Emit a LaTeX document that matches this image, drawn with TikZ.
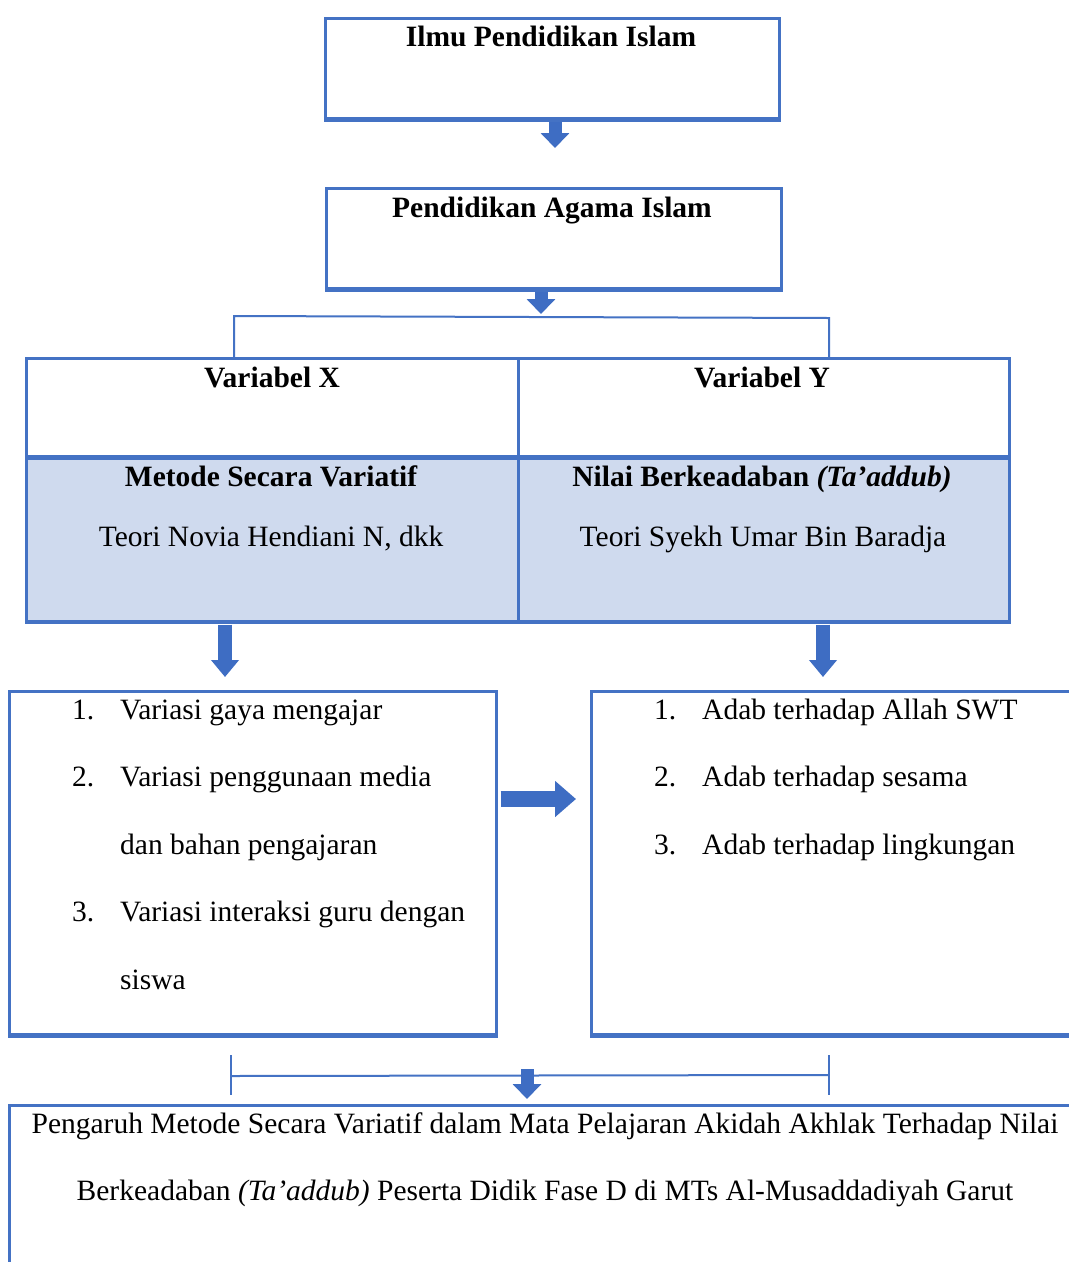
\documentclass[tikz,border=0pt]{standalone}
\usepackage{fontspec}
\setmainfont{Liberation Serif}
\usetikzlibrary{arrows.meta}
\definecolor{bord}{HTML}{4472C4}
\definecolor{lfill}{HTML}{CFDAEE}
\definecolor{arr}{HTML}{3E6DC3}
\begin{document}
\begin{tikzpicture}[x=1pt,y=-1pt,
  txt/.style={inner sep=0pt, font=\fontsize{29.5}{35}\selectfont},
  btxt/.style={txt, font=\fontsize{29.5}{35}\selectfont\bfseries},
  box/.style={draw=bord, line width=2.5pt, rectangle, inner sep=0pt},
  cellw/.style={box},
  cellb/.style={box, fill=lfill},
  thickline/.style={draw=bord, line width=5pt},
  thinline/.style={draw=bord, line width=2pt},
  barrow/.style={draw=arr, line width=13pt, -{Triangle[width=28pt,length=15pt]}},
  barrowv/.style={draw=arr, line width=14pt, -{Triangle[width=27pt,length=17pt]}},
  barrowh/.style={draw=arr, line width=16pt, -{Triangle[width=35pt,length=21pt]}}]
\clip (0,0) rectangle (1069,1262);
\fill[white] (0,0) rectangle (1069,1262);

% top boxes
\node[box, anchor=north west, minimum width=454pt, minimum height=100pt] (b1) at (324,17) {};
\draw[thickline] (b1.south west) -- (b1.south east);
\node[btxt, anchor=base] (t1) at (551,46) {Ilmu Pendidikan Islam};

\node[box, anchor=north west, minimum width=455pt, minimum height=100pt] (b2) at (325,187) {};
\draw[thickline] (b2.south west) -- (b2.south east);
\node[btxt, anchor=base] (t2) at (552,217) {Pendidikan Agama Islam};

\coordinate (a1e) at (555,148);
\draw[barrow] ([yshift=-2pt]b1.south -| a1e) -- (a1e);

% table
\node[cellw, anchor=north west, minimum width=492pt, minimum height=98pt] (vx) at (25,357) {};
\node[cellw, anchor=north west, minimum width=491pt, minimum height=98pt] (vy) at (517,357) {};
\node[cellb, anchor=north west, minimum width=492pt, minimum height=165pt] (mx) at (25,455) {};
\node[cellb, anchor=north west, minimum width=491pt, minimum height=165pt] (my) at (517,455) {};
\draw[thickline] (vx.south west) -- (vy.south east);
\draw[draw=bord, line width=3.5pt] (mx.south west) -- (my.south east);

\node[btxt, anchor=base] (vxt) at (272,387) {Variabel X};
\node[btxt, anchor=base] (vyt) at (762,387) {Variabel Y};
\node[btxt, anchor=base] (mxt) at (271,486) {Metode Secara Variatif};
\node[btxt, anchor=base] (myt) at (762,486) {Nilai Berkeadaban \textit{(Ta’addub)}};
\node[txt, anchor=base] (mxs) at (271,546) {Teori Novia Hendiani N, dkk};
\node[txt, anchor=base] (mys) at (763,546) {Teori Syekh Umar Bin Baradja};

% top bracket
\coordinate (brl) at (234,316);
\coordinate (brr) at (829,318);
\draw[thinline] (brl |- vx.north) -- (brl) -- (brr) -- (brr |- vy.north);
\coordinate (a2e) at (541,314);
\draw[barrow] ([yshift=-2pt]b2.south -| a2e) -- (a2e);

% list boxes
\node[box, anchor=north west, minimum width=487pt, minimum height=343pt] (lx) at (8,690) {};
\draw[thickline] (lx.south west) -- (lx.south east);
\node[box, anchor=north west, minimum width=520pt, minimum height=343pt] (ly) at (590,690) {};
\draw[thickline] (ly.south west) -- (ly.south east);

\coordinate (a3e) at (225,677);
\coordinate (a4e) at (823,677);
\draw[barrowv] ([yshift=-2pt]mx.south -| a3e) -- (a3e);
\draw[barrowv] ([yshift=-2pt]my.south -| a4e) -- (a4e);

\coordinate (a5e) at (576,799);
\draw[barrowh] ([xshift=3pt]lx.east |- a5e) -- (a5e);

% left list
\node[txt, anchor=base west] (n1) at (72,719) {1.};
\node[txt, anchor=base west] (l1) at (120,719) {Variasi gaya mengajar};
\node[txt, anchor=base west] (n2) at (72,786) {2.};
\node[txt, anchor=base west] (l2) at (120,786) {Variasi penggunaan media};
\node[txt, anchor=base west] (l2b) at (120,854) {dan bahan pengajaran};
\node[txt, anchor=base west] (n3) at (72,921) {3.};
\node[txt, anchor=base west] (l3) at (120,921) {Variasi interaksi guru dengan};
\node[txt, anchor=base west] (l3b) at (120,989) {siswa};

% right list
\node[txt, anchor=base west] (m1) at (654,719) {1.};
\node[txt, anchor=base west] (r1) at (702,719) {Adab terhadap Allah SWT};
\node[txt, anchor=base west] (m2) at (654,786) {2.};
\node[txt, anchor=base west] (r2) at (702,786) {Adab terhadap sesama};
\node[txt, anchor=base west] (m3) at (654,854) {3.};
\node[txt, anchor=base west] (r3) at (702,854) {Adab terhadap lingkungan};

% bottom bracket
\coordinate (bbl) at (231,1076);
\coordinate (bbr) at (829,1075);
\coordinate (bbl1) at (231,1055);
\coordinate (bbl2) at (231,1095);
\coordinate (bbr1) at (829,1055);
\coordinate (bbr2) at (829,1095);
\draw[thinline] (bbl) -- (bbr);
\draw[thinline] (bbl1) -- (bbl2);
\draw[thinline] (bbr1) -- (bbr2);

% bottom box
\node[box, anchor=north west, minimum width=1200pt, minimum height=300pt] (bt) at (8,1104) {};
\coordinate (a6s) at (527,1069);
\draw[barrow] (a6s) -- ([yshift=5pt]bt.north -| a6s);

\node[txt, anchor=base] (bt1) at (545,1133) {Pengaruh Metode Secara Variatif dalam Mata Pelajaran Akidah Akhlak Terhadap Nilai};
\node[txt, anchor=base] (bt2) at (545,1200) {Berkeadaban \textit{(Ta’addub)} Peserta Didik Fase D di MTs Al-Musaddadiyah Garut};
\end{tikzpicture}
\end{document}
